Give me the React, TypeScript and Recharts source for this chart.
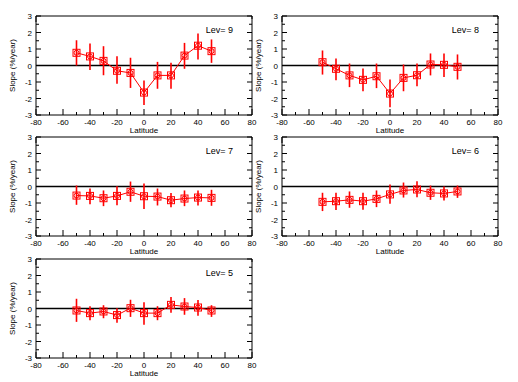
import { ComposedChart, ErrorBar, Line, ReferenceLine, XAxis, YAxis } from 'recharts'

const RED = '#ff0000'
const FONT = '"Liberation Sans", Arial, sans-serif'

// latitude bins (deg)
const LAT = [-50, -40, -30, -20, -10, 0, 10, 20, 30, 40, 50]

// slope values and error bar ends (%/year)
const LEV9 = [0.77, 0.55, 0.28, -0.32, -0.45, -1.64, -0.6, -0.6, 0.6, 1.2, 0.87]
const LEV9_HI = [1.53, 1.33, 1.17, 0.56, 0.47, -0.91, 0.22, 0.16, 1.37, 1.94, 1.58]
const LEV9_LO = [0, -0.28, -0.59, -1.11, -1.36, -2.4, -1.41, -1.41, -0.2, 0.36, 0.16]

const LEV8 = [0.2, -0.2, -0.6, -0.87, -0.65, -1.7, -0.75, -0.59, 0.06, 0.04, -0.08]
const LEV8_HI = [0.91, 0.42, 0.12, -0.18, 0.12, -0.85, 0.06, 0.12, 0.73, 0.73, 0.67]
const LEV8_LO = [-0.55, -0.89, -1.31, -1.56, -1.37, -2.53, -1.56, -1.25, -0.6, -0.7, -0.85]

const LEV7 = [-0.55, -0.57, -0.71, -0.57, -0.32, -0.59, -0.61, -0.83, -0.73, -0.67, -0.69]
const LEV7_HI = [0.06, -0.12, -0.24, 0.02, 0.3, 0.18, -0.12, -0.4, -0.24, -0.24, -0.2]
const LEV7_LO = [-1.11, -1.07, -1.19, -1.13, -0.93, -1.37, -1.15, -1.25, -1.19, -1.15, -1.17]

const LEV6 = [-0.93, -0.89, -0.81, -0.89, -0.75, -0.48, -0.24, -0.18, -0.38, -0.42, -0.3]
const LEV6_HI = [-0.38, -0.38, -0.3, -0.38, -0.24, 0.12, 0.24, 0.32, 0.06, 0, 0.06]
const LEV6_LO = [-1.49, -1.43, -1.29, -1.41, -1.25, -1.05, -0.67, -0.65, -0.81, -0.85, -0.69]

const LEV5 = [-0.12, -0.28, -0.18, -0.4, 0.02, -0.28, -0.28, 0.22, 0.12, 0.06, -0.12]
const LEV5_HI = [0.59, 0.14, 0.2, 0.02, 0.53, 0.38, 0.14, 0.69, 0.63, 0.51, 0.2]
const LEV5_LO = [-0.81, -0.71, -0.59, -0.87, -0.51, -0.99, -0.71, -0.26, -0.38, -0.44, -0.51]

const X_TICKS = [-80, -70, -60, -50, -40, -30, -20, -10, 0, 10, 20, 30, 40, 50, 60, 70, 80]
const Y_TICKS = [-3, -2.5, -2, -1.5, -1, -0.5, 0, 0.5, 1, 1.5, 2, 2.5, 3]

const rows = (v: number[], hi: number[], lo: number[]) =>
  LAT.map((lat, i) => ({ lat, v: v[i], err: [v[i] - lo[i], hi[i] - v[i]] }))

const txt = { fontFamily: FONT, fontSize: 8, fill: '#000' }

// ticks point inward, majors get labels
const XBottomTick = ({ x, y, payload }: any) => {
  const major = payload.value % 20 === 0
  return (
    <g>
      <line x1={x} y1={y} x2={x} y2={y - (major ? 6 : 3)} stroke="#000" />
      {major && (
        <text x={x} y={y + 10} textAnchor="middle" {...txt}>
          {payload.value}
        </text>
      )}
    </g>
  )
}

const XTopTick = ({ x, y, payload }: any) => {
  const major = payload.value % 20 === 0
  return <line x1={x} y1={y} x2={x} y2={y + (major ? 6 : 3)} stroke="#000" />
}

const YLeftTick = ({ x, y, payload }: any) => {
  const major = Number.isInteger(payload.value)
  return (
    <g>
      <line x1={x} y1={y} x2={x + (major ? 5 : 3)} y2={y} stroke="#000" />
      {major && (
        <text x={x - 4} y={y + 3} textAnchor="end" {...txt}>
          {payload.value}
        </text>
      )}
    </g>
  )
}

const YRightTick = ({ x, y, payload }: any) => {
  const major = Number.isInteger(payload.value)
  return <line x1={x} y1={y} x2={x - (major ? 5 : 3)} y2={y} stroke="#000" />
}

const Marker = (p: any) => {
  if (p.cx == null || p.cy == null) return <g key={p.index} />
  return (
    <g key={p.index}>
      <rect x={p.cx - 3.5} y={p.cy - 3.5} width={7} height={7} fill="none" stroke={RED} strokeWidth={1} />
      <circle cx={p.cx} cy={p.cy} r={2.5} fill="none" stroke={RED} strokeWidth={1} />
    </g>
  )
}

function Panel({ data, lev, left, top }: { data: any[]; lev: number; left: number; top: number }) {
  return (
    <div style={{ position: 'absolute', left, top }}>
      <ComposedChart
        width={262}
        height={142}
        data={data}
        margin={{ top: 15, right: 9, bottom: 26, left: 35 }}
      >
        <XAxis
          dataKey="lat"
          type="number"
          domain={[-80, 80]}
          ticks={X_TICKS}
          interval={0}
          height={1}
          tickSize={0}
          tickMargin={0}
          tickLine={false}
          tick={<XBottomTick />}
          stroke="#000"
          allowDataOverflow
          label={{
            content: ({ viewBox }: any) => (
              <text x={viewBox.x + viewBox.width / 2} y={viewBox.y + 18} textAnchor="middle" {...txt}>
                Latitude
              </text>
            ),
          }}
        />
        <XAxis
          xAxisId="top"
          orientation="top"
          type="number"
          domain={[-80, 80]}
          ticks={X_TICKS}
          interval={0}
          height={1}
          tickSize={0}
          tickMargin={0}
          tickLine={false}
          tick={<XTopTick />}
          stroke="#000"
          allowDataOverflow
          label={{
            content: ({ viewBox }: any) => (
              <text
                x={viewBox.x + viewBox.width - 19}
                y={viewBox.y + viewBox.height + 17}
                textAnchor="end"
                {...txt}
                fontSize={9}
              >
                {`Lev= ${lev}`}
              </text>
            ),
          }}
        />
        <YAxis
          type="number"
          domain={[-3, 3]}
          ticks={Y_TICKS}
          interval={0}
          width={1}
          tickSize={0}
          tickMargin={0}
          tickLine={false}
          tick={<YLeftTick />}
          stroke="#000"
          allowDataOverflow
          label={{
            content: ({ viewBox }: any) => {
              const cx = viewBox.x - 20
              const cy = viewBox.y + viewBox.height / 2
              return (
                <text x={cx} y={cy} textAnchor="middle" transform={`rotate(-90 ${cx} ${cy})`} {...txt}>
                  Slope (%/year)
                </text>
              )
            },
          }}
        />
        <YAxis
          yAxisId="right"
          orientation="right"
          type="number"
          domain={[-3, 3]}
          ticks={Y_TICKS}
          interval={0}
          width={1}
          tickSize={0}
          tickMargin={0}
          tickLine={false}
          tick={<YRightTick />}
          stroke="#000"
          allowDataOverflow
        />
        <ReferenceLine y={0} stroke="#000" strokeWidth={1.5} />
        <Line
          dataKey="v"
          type="linear"
          stroke={RED}
          strokeWidth={1}
          dot={Marker}
          activeDot={false}
          isAnimationActive={false}
        >
          <ErrorBar dataKey="err" direction="y" width={0} stroke={RED} strokeWidth={1.6} isAnimationActive={false} />
        </Line>
      </ComposedChart>
    </div>
  )
}

export default function App() {
  return (
    <div style={{ position: 'absolute', left: 0, top: 0, width: 518, height: 382, background: '#fff' }}>
      <Panel data={rows(LEV9, LEV9_HI, LEV9_LO)} lev={9} left={0} top={0} />
      <Panel data={rows(LEV8, LEV8_HI, LEV8_LO)} lev={8} left={246} top={0} />
      <Panel data={rows(LEV7, LEV7_HI, LEV7_LO)} lev={7} left={0} top={121} />
      <Panel data={rows(LEV6, LEV6_HI, LEV6_LO)} lev={6} left={246} top={121} />
      <Panel data={rows(LEV5, LEV5_HI, LEV5_LO)} lev={5} left={0} top={243} />
    </div>
  )
}
